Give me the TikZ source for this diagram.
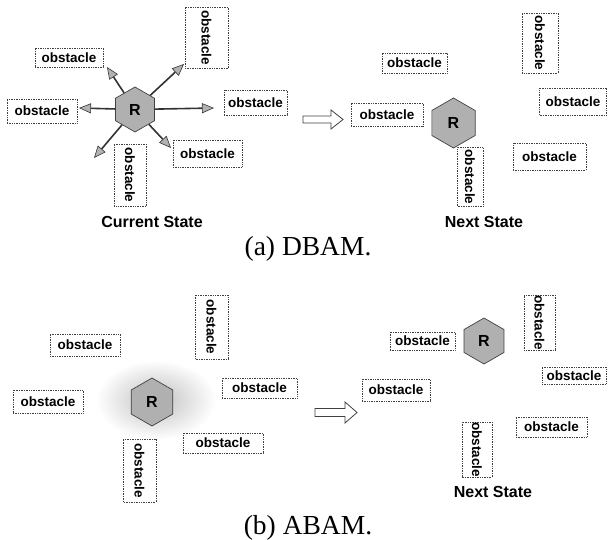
\documentclass[tikz,border=0pt]{standalone}
\usepackage{fontspec}
\setmainfont{Liberation Serif}
\newfontfamily\labelfont{Liberation Sans}
\usetikzlibrary{shapes.geometric,arrows.meta}
\begin{document}
\begin{tikzpicture}[x=1pt,y=-1pt,
  obs/.style={draw=black!75, densely dotted, line width=0.7pt, inner sep=0pt,
    font=\labelfont\bfseries\fontsize{13.5}{14}\selectfont},
  vobs/.style={obs, rotate=-90},
  robot/.style={regular polygon, regular polygon sides=6, shape border rotate=30,
    draw=black!75, line width=0.7pt, fill=gray!62, inner sep=0pt,
    font=\labelfont\bfseries\fontsize{16}{18}\selectfont},
  state/.style={font=\labelfont\bfseries\fontsize{16}{18}\selectfont},
  caption/.style={font=\fontsize{27.5}{30}\selectfont},
  move/.style={draw=black!80, line width=1.6pt,
    -{Triangle[length=12pt,width=10pt,fill=gray!60,line width=0.6pt]}},
  hollow/.style={draw=black!75, line width=0.8pt, fill=white, line join=miter}
]
\useasboundingbox (0,0) rectangle (608,540);

% ---------- (a) current state ----------
\node[obs, minimum width=68pt, minimum height=19pt] (a1) at (69,57.5) {obstacle};
\node[obs, minimum width=70pt, minimum height=24pt] (a2) at (42,111) {obstacle};
\node[obs, minimum width=63pt, minimum height=25pt] (a3) at (255.5,102.5) {obstacle};
\node[obs, minimum width=69pt, minimum height=27pt] (a4) at (207.5,153.5) {obstacle};
\node[vobs, minimum width=61pt, minimum height=43pt] (a5) at (206.5,37.5) {obstacle};
\node[vobs, minimum width=62pt, minimum height=32pt] (a6) at (130,175) {obstacle};
\node[robot, minimum size=45pt] (ra) at (135,109.5) {R};
\coordinate (tul) at (107,67);
\coordinate (tur) at (184,64);
\coordinate (tl) at (79,108);
\coordinate (tr) at (214,108);
\coordinate (tdl) at (94,158);
\coordinate (tdr) at (171,148);
\foreach \t in {tul,tur,tl,tr,tdl,tdr} \draw[move] (ra) -- (\t);
\node[state] (cs) at (152,222) {Current State};

% hollow arrow (a)
\draw[hollow] (303,116) -- (331,116) -- (331,110) -- (343,119.5) -- (331,129) -- (331,123) -- (303,123) -- cycle;

% ---------- (a) next state ----------
\node[obs, minimum width=65pt, minimum height=20pt] (b1) at (414.5,63) {obstacle};
\node[vobs, minimum width=60pt, minimum height=36pt] (b2) at (540,43) {obstacle};
\node[obs, minimum width=67pt, minimum height=27pt] (b3) at (573,101.5) {obstacle};
\node[obs, minimum width=72pt, minimum height=23pt] (b4) at (387,114.5) {obstacle};
\node[robot, minimum size=50pt] (rb) at (453.5,123) {R};
\node[vobs, minimum width=59pt, minimum height=26pt] (b5) at (470,177) {obstacle};
\node[obs, minimum width=73pt, minimum height=27pt] (b6) at (549.5,156.5) {obstacle};
\node[state] (ns1) at (484,222) {Next State};

\node[caption] (capa) at (308,249) {(a) DBAM.};

% ---------- (b) current state ----------
\shade[inner color=gray!50, outer color=white] (156,400) ellipse [x radius=60, y radius=40];
\node[obs, minimum width=70pt, minimum height=22pt] (c1) at (85,345) {obstacle};
\node[vobs, minimum width=64pt, minimum height=33pt] (c2) at (211.5,327) {obstacle};
\node[obs, minimum width=75pt, minimum height=20pt] (c3) at (259.5,388) {obstacle};
\node[obs, minimum width=70pt, minimum height=23pt] (c4) at (48,401.5) {obstacle};
\node[robot, minimum size=48pt] (rc) at (152,402) {R};
\node[obs, minimum width=80pt, minimum height=20pt] (c5) at (223,443) {obstacle};
\node[vobs, minimum width=63pt, minimum height=33pt] (c6) at (139.5,470.5) {obstacle};

% hollow arrow (b)
\draw[hollow] (315,408.5) -- (345,408.5) -- (345,402) -- (357,412.5) -- (345,423) -- (345,416.5) -- (315,416.5) -- cycle;

% ---------- (b) next state ----------
\node[obs, minimum width=65pt, minimum height=18pt] (d1) at (422.5,341) {obstacle};
\node[robot, minimum size=46pt] (rd) at (484,341) {R};
\node[vobs, minimum width=55pt, minimum height=31pt] (d2) at (539.5,322.5) {obstacle};
\node[obs, minimum width=64pt, minimum height=17pt] (d3) at (574,375.5) {obstacle};
\node[obs, minimum width=68pt, minimum height=22pt] (d4) at (396,390) {obstacle};
\node[obs, minimum width=71pt, minimum height=20pt] (d5) at (551.5,427) {obstacle};
\node[vobs, minimum width=55pt, minimum height=30pt] (d6) at (477,449.5) {obstacle};
\node[state] (ns2) at (493,492) {Next State};

\node[caption] (capb) at (308,528) {(b) ABAM.};
\end{tikzpicture}
\end{document}
